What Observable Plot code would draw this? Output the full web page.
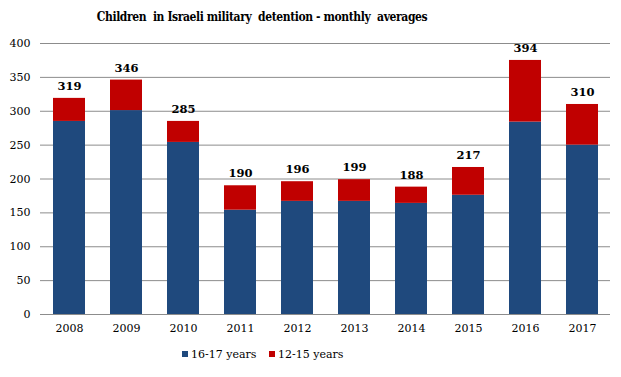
<!DOCTYPE html>
<html>
<head>
<meta charset="utf-8">
<script src="https://cdn.jsdelivr.net/npm/d3@7"></script>
<script src="https://cdn.jsdelivr.net/npm/@observablehq/plot@0.6"></script>
<style>
  body { margin: 0; background: #fff; width: 621px; height: 377px; position: relative; overflow: hidden; font-family: "DejaVu Serif", serif; }
  #title { position: absolute; left: 0; top: 10px; width: 524px; text-align: center; font-weight: bold; font-size: 12px; letter-spacing: -0.4px; color: #000; white-space: pre; font-family: "DejaVu Serif Condensed", "DejaVu Serif", serif; }
  #chart { position: absolute; left: 0; top: 33px; }
  #legend { position: absolute; left: 0; top: 348px; width: 621px; font-size: 11px; color: #000; font-family: "DejaVu Serif", serif; }
  .item { position: absolute; top: 0; white-space: nowrap; }
  .sw { display: inline-block; width: 6px; height: 6px; margin-right: 3px; vertical-align: 1px; }
</style>
</head>
<body>
<div id="title">Children  in Israeli military  detention - monthly  averages</div>
<div id="chart"></div>
<div id="legend"></div>
<script>
const years = ["2008","2009","2010","2011","2012","2013","2014","2015","2016","2017"];
const age16_17 = [285, 301, 254, 154, 167, 167, 164, 176, 284, 250];
const age12_15 = [34, 45, 31, 36, 29, 32, 24, 41, 91, 60];
const totalLabels = [319, 346, 285, 190, 196, 199, 188, 217, 394, 310];
const seriesNames = ["16-17 years", "12-15 years"];
const seriesColors = ["#1F497D", "#C00000"];
const yTicks = [0, 50, 100, 150, 200, 250, 300, 350, 400];

const rows = [];
years.forEach((y, i) => {
  rows.push({year: y, series: seriesNames[0], value: age16_17[i]});
  rows.push({year: y, series: seriesNames[1], value: age12_15[i]});
});
const tops = years.map((y, i) => ({year: y, top: age16_17[i] + age12_15[i], label: String(totalLabels[i])}));

const chart = Plot.plot({
  width: 621,
  height: 310,
  marginLeft: 40,
  marginRight: 11,
  marginTop: 10,
  marginBottom: 29,
  style: {fontFamily: "DejaVu Serif", fontSize: "11px", color: "#000", background: "#fff"},
  x: {domain: years, paddingInner: 0.44, paddingOuter: 0.22, label: null, tickSize: 0, tickPadding: 10},
  y: {domain: [0, 400], ticks: yTicks, label: null, tickSize: 0, tickPadding: 10},
  color: {domain: seriesNames, range: seriesColors},
  marks: [
    Plot.ruleY(yTicks, {stroke: "#8c8c8c", strokeWidth: 1}),
    Plot.barY(rows, Plot.stackY({x: "year", y: "value", fill: "series", order: seriesNames})),
    Plot.text(tops, {x: "year", y: "top", text: "label", dy: -12, fontWeight: "bold", fontSize: 11.5, fill: "#000"}),
    Plot.ruleY([0], {stroke: "#8c8c8c"})
  ]
});
document.getElementById("chart").appendChild(chart);

const legend = document.getElementById("legend");
const positions = [182, 269];
seriesNames.forEach((n, i) => {
  const d = document.createElement("span");
  d.className = "item";
  d.style.left = positions[i] + "px";
  d.innerHTML = `<span class="sw" style="background:${seriesColors[i]}"></span>${n}`;
  legend.appendChild(d);
});
</script>
</body>
</html>
